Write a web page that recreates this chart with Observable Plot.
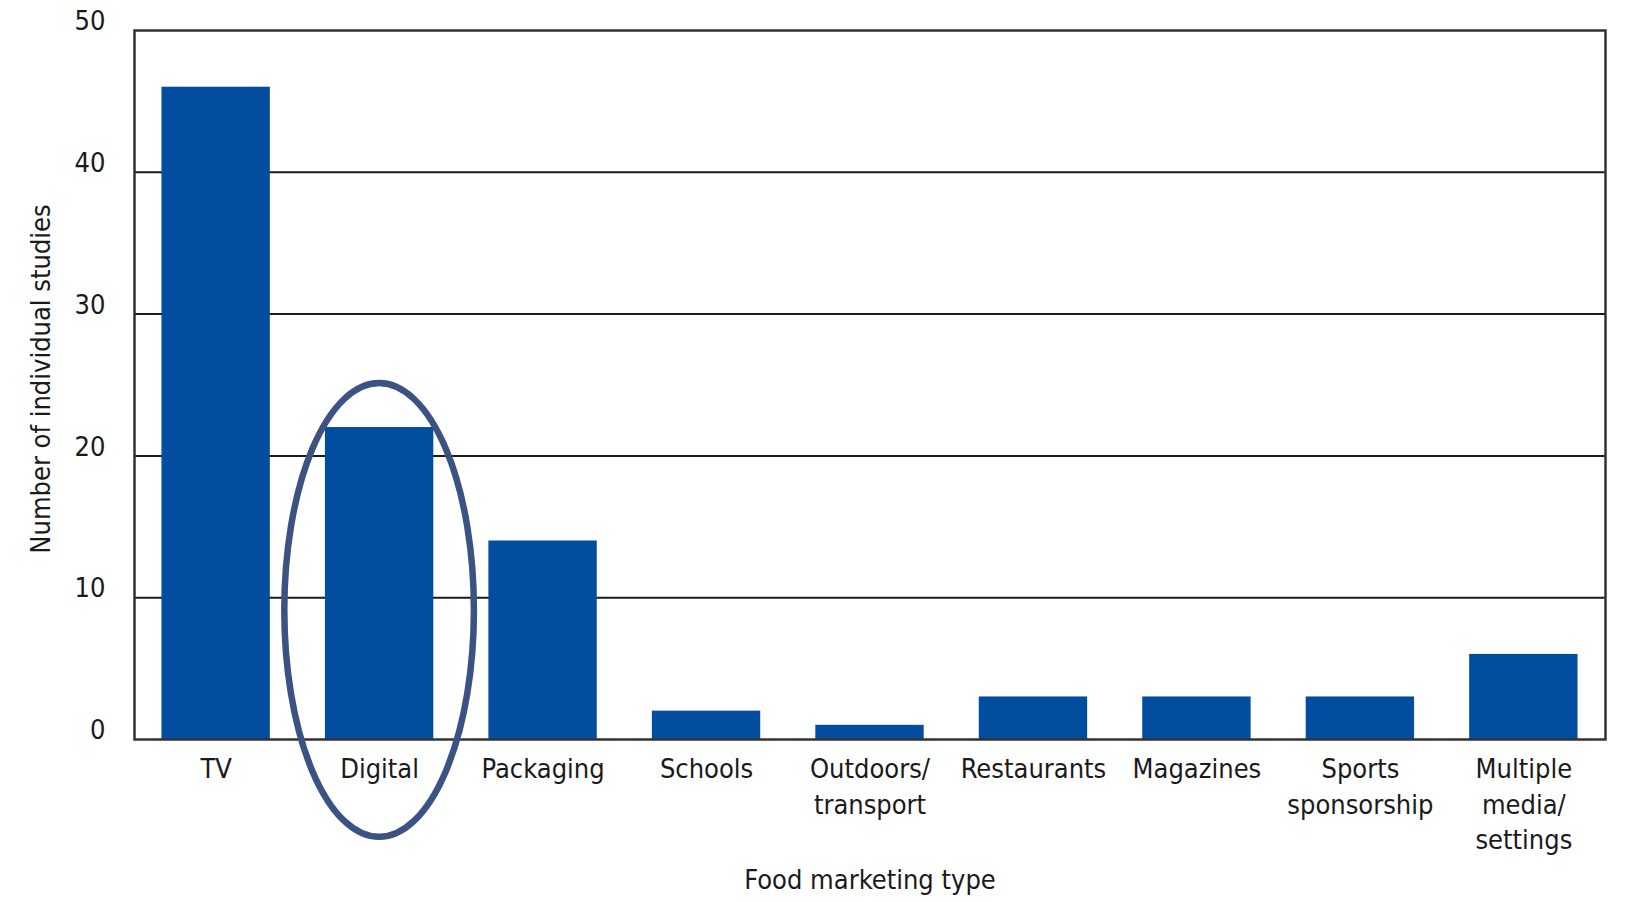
<!DOCTYPE html>
<html>
<head>
<meta charset="utf-8">
<script src="https://cdn.jsdelivr.net/npm/d3@7"></script>
<script src="https://cdn.jsdelivr.net/npm/@observablehq/plot@0.6"></script>
<style>
  html, body { margin: 0; padding: 0; background: #fff; }
</style>
</head>
<body>
<div id="chart"></div>
<script>
const categories = ["TV", "Digital", "Packaging", "Schools", "Outdoors/\ntransport", "Restaurants", "Magazines", "Sports\nsponsorship", "Multiple\nmedia/\nsettings"];
const counts = [46, 22, 14, 2, 1, 3, 3, 3, 6];
const yTicks = [0, 10, 20, 30, 40, 50];
const gridValues = [10, 20, 30, 40];
const highlightCategory = "Digital";
const xTitle = "Food marketing type";
const yTitle = "Number of individual studies";

const data = categories.map((c, i) => ({category: c, count: counts[i]}));

// annotation ellipse around the highlighted category (data units)
const ellipseMark = (index, scales, values, dims) => {
  const x = scales.x, y = scales.y;
  const step = x.bandwidth() / (1 - 0.337);
  const cx = x(highlightCategory) + x.bandwidth() / 2;
  const cy = y(9.1);
  const ry = Math.abs(y(0) - y(16.0));
  const rx = step * 0.58;
  const el = d3.create("svg:ellipse")
    .attr("cx", cx).attr("cy", cy).attr("rx", rx).attr("ry", ry)
    .attr("fill", "none").attr("stroke", "#3b5283").attr("stroke-width", 6.5);
  return el.node();
};

const chart = Plot.plot({
  width: 1626,
  height: 902,
  marginTop: 30,
  marginBottom: 163,
  marginLeft: 134,
  marginRight: 21,
  style: {fontFamily: "'DejaVu Sans Condensed', 'DejaVu Sans', sans-serif", fontSize: "27px", color: "#1a1a1a", background: "#fff"},
  x: {domain: categories, paddingInner: 0.337, paddingOuter: 0.168, align: 0.5, round: false},
  y: {domain: [0, 50]},
  marks: [
    Plot.ruleY(gridValues, {stroke: "#1a1a1a", strokeWidth: 2}),
    Plot.barY(data, {x: "category", y: "count", fill: "#034da1"}),
    Plot.frame({stroke: "#333", strokeWidth: 2.5}),
    Plot.axisY({ticks: yTicks, tickSize: 0, tickPadding: 29, dy: -9, label: null, tickFormat: d => String(d)}),
    Plot.axisX({tickSize: 0, tickPadding: 14, label: null, lineHeight: 1.3}),
    Plot.text([yTitle], {frameAnchor: "left", textAnchor: "middle", lineAnchor: "middle", rotate: -90, dx: -93, dy: -6, fill: "#1a1a1a"}),
    Plot.text([xTitle], {frameAnchor: "bottom", textAnchor: "middle", lineAnchor: "middle", dy: 141, fill: "#1a1a1a"}),
    ellipseMark
  ]
});
document.getElementById("chart").appendChild(chart);
</script>
</body>
</html>
